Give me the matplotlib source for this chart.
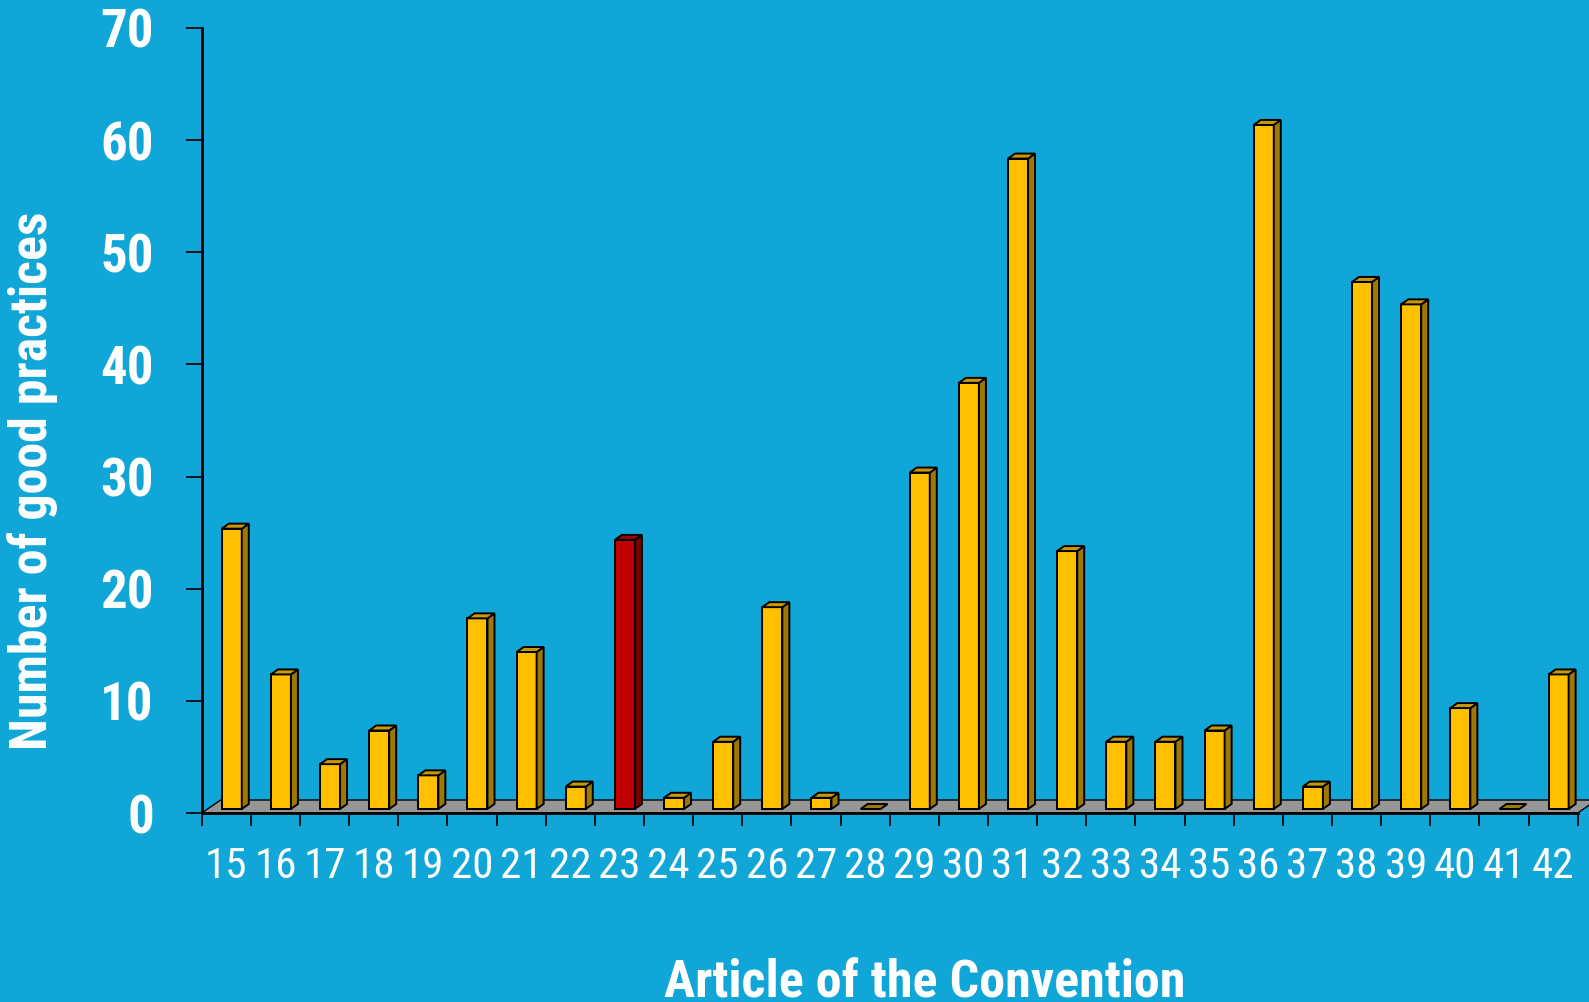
import matplotlib
matplotlib.use("Agg")
import matplotlib.pyplot as plt
from matplotlib.patches import Rectangle, Polygon
from matplotlib import font_manager

# ---- data ----
articles = [15, 16, 17, 18, 19, 20, 21, 22, 23, 24, 25, 26, 27, 28,
            29, 30, 31, 32, 33, 34, 35, 36, 37, 38, 39, 40, 41, 42]
practices = [25, 12, 4, 7, 3, 17, 14, 2, 24, 1, 6, 18, 1, 0,
             30, 38, 58, 23, 6, 6, 7, 61, 2, 47, 45, 9, 0, 12]
highlight = [23]
y_ticks = [0, 10, 20, 30, 40, 50, 60, 70]
x_title = "Article of the Convention"
y_title = "Number of good practices"

# ---- style ----
BG = "#11A6D8"
FRONT, SIDE, TOP = "#FFC000", "#9E7800", "#C99A00"
RFRONT, RSIDE, RTOP = "#C00000", "#7A0000", "#A00000"
FLOOR = "#969696"

avail = {f.name for f in font_manager.fontManager.ttflist}
narrow = next((f for f in ["Roboto Condensed", "PT Sans Narrow", "Archivo Narrow",
                           "Liberation Sans"] if f in avail), "DejaVu Sans")
FAM = [narrow, "DejaVu Sans"]

W, H = 1589, 1002
fig = plt.figure(figsize=(W / 100, H / 100), dpi=100, facecolor=BG)
ax_l, ax_r, ax_b, ax_t = 201.7, 1577.7, 813, 28
ax = fig.add_axes([ax_l / W, (H - ax_b) / H, (ax_r - ax_l) / W, (ax_b - ax_t) / H])
ax.set_facecolor(BG)
n = len(articles)
ax.set_xlim(0, n)
ax.set_ylim(0, 70)

pxx = (ax_r - ax_l) / n          # px per category
pxy = (ax_b - ax_t) / 70.0       # px per unit

# floor
fdx, fdy = 19 / pxx, 13 / pxy
floor = Polygon([(0, 0), (n, 0), (n + fdx, fdy), (fdx, fdy)], closed=True,
                facecolor=FLOOR, edgecolor="black", lw=1.0, clip_on=False, zorder=2)
ax.add_patch(floor)

# bars
off = 5.5 / pxx
bw = 20 / pxx
base = 4 / pxy
dx, dy = 7 / pxx, 5 / pxy
for i, (a, v) in enumerate(zip(articles, practices)):
    fc, sc, tc = (RFRONT, RSIDE, RTOP) if a in highlight else (FRONT, SIDE, TOP)
    x0 = i + 0.5 + off - bw / 2
    top = base + v
    if v > 0:
        ax.add_patch(Rectangle((x0, base), bw, v, facecolor=fc, edgecolor="black",
                               lw=1.4, zorder=4, clip_on=False))
        ax.add_patch(Polygon([(x0 + bw, base), (x0 + bw + dx, base + dy),
                              (x0 + bw + dx, top + dy), (x0 + bw, top)], closed=True,
                             facecolor=sc, edgecolor="black", lw=1.4, zorder=4, clip_on=False))
    ax.add_patch(Polygon([(x0, top), (x0 + bw, top), (x0 + bw + dx, top + dy),
                          (x0 + dx, top + dy)], closed=True,
                         facecolor=tc if v > 0 else SIDE, edgecolor="black", lw=1.4,
                         zorder=4, clip_on=False))

# spines
for s in ["top", "right"]:
    ax.spines[s].set_visible(False)
ax.spines["left"].set_linewidth(2)
ax.spines["bottom"].set_linewidth(2)
ax.spines["left"].set_zorder(5)
ax.spines["bottom"].set_zorder(5)

# y ticks
ax.set_yticks(y_ticks)
ax.set_yticklabels([str(t) for t in y_ticks], fontsize=38, fontweight="bold",
                   color="white", family=FAM)
ax.tick_params(axis="y", length=11.5, width=1.2, color="#000000", pad=23)

# x ticks: labels at centers, tick marks at boundaries
ax.set_xticks([i + 0.5 for i in range(n)])
ax.set_xticklabels([str(a) for a in articles], fontsize=31, color="white", family=FAM)
ax.set_xticks(range(n + 1), minor=True)
ax.tick_params(axis="x", which="major", length=0, pad=24)
ax.tick_params(axis="x", which="minor", length=9, width=1.2, color="#000000")

fig.text(33 / W, (H - 481) / H, y_title, rotation=90, ha="center", va="center",
         fontsize=37.4, fontweight="bold", color="white", family=FAM)
fig.text(925 / W, 4 / H, x_title, ha="center", va="baseline",
         fontsize=37.5, fontweight="bold", color="white", family=FAM)

fig.savefig("out.png", dpi=100, facecolor=BG)
